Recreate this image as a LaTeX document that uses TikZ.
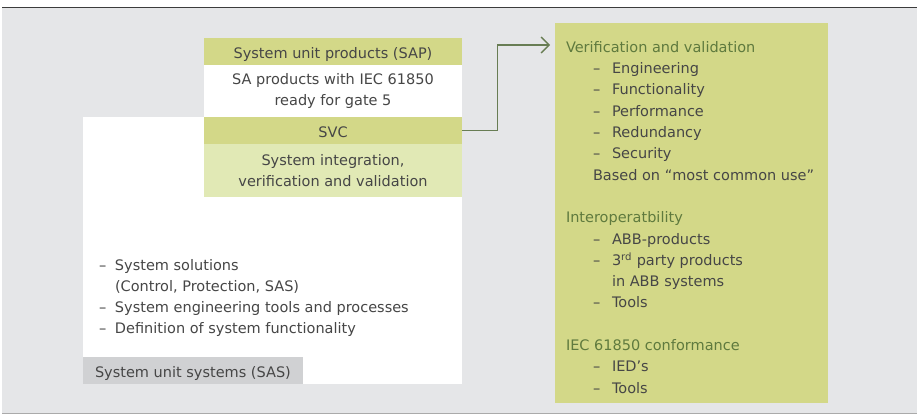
\documentclass[tikz,border=0pt]{standalone}
\usepackage{fontspec}
\setmainfont{DejaVu Sans}
\usetikzlibrary{arrows.meta}

\definecolor{bggray}{RGB}{229,230,232}
\definecolor{olive}{RGB}{211,216,136}
\definecolor{lightgreen}{RGB}{225,233,181}
\definecolor{labelgray}{RGB}{208,209,211}
\definecolor{txtgray}{RGB}{70,70,70}
\definecolor{headgreen}{RGB}{95,122,62}
\definecolor{linkgreen}{RGB}{104,125,84}
\definecolor{topline}{RGB}{60,60,60}
\definecolor{botline}{RGB}{170,170,170}

\newcommand{\sitem}[1]{\makebox[16pt][l]{–}#1}
\newcommand{\vitem}[1]{\hspace*{27pt}\makebox[19pt][l]{–}#1}
\newcommand{\grp}[1]{\textcolor{headgreen}{#1}}

\begin{document}
\begin{tikzpicture}[x=1pt,y=-1pt,font=\fontsize{14.5}{21.3}\selectfont,text=txtgray]
      \tikzstyle{unit}=[anchor=north west,inner sep=0pt,outer sep=0pt]
      \tikzstyle{head}=[unit,fill=olive,minimum width=258pt,minimum height=26.7pt,text height=13.4pt,text depth=0pt]
      \tikzstyle{body}=[unit,minimum width=258pt,minimum height=52.7pt,align=center]
      \tikzstyle{link}=[draw=linkgreen,line width=1.3pt,-{Straight Barb[length=8pt,width=16pt]}]

      \useasboundingbox (0,0) rectangle (917,415);
      \fill[bggray] (2,8) rectangle (917,413);
      \draw[line width=1.5pt,topline] (2,7.5) -- (917,7.5);
      \draw[line width=1pt,botline] (2,413) -- (917,413);

      \node[unit,fill=white,minimum width=379pt,minimum height=267pt](sasbox) at (83,117){};
      \node[head](sap) at (204,38){System unit products (SAP)};
      \node[body,fill=white](sapbody) at (204,64.7){SA products with IEC 61850\\ready for gate 5};
      \node[head](svc) at (204,117.3){SVC};
      \node[body,fill=lightgreen](svcbody) at (204,144){\raisebox{-2pt}{System integration,}\\\raisebox{-2pt}{verification and validation}};
      \node[unit,fill=labelgray,minimum width=219.7pt,minimum height=26.7pt,text height=13.4pt,text depth=0pt](sas) at (83,357.3){\makebox[195.7pt][l]{System unit systems (SAS)}};

      \node[unit,align=left](sasitems) at (99,259){\sitem{System solutions}\\\hspace*{16pt}(Control, Protection, SAS)\\\sitem{System engineering tools and processes}\\\sitem{Definition of system functionality}};

      \node[unit,fill=olive,minimum width=273pt,minimum height=379.7pt](vvbox) at (555,23){};
      \node[unit,align=left](vvlist) at (566,41.3){\grp{Verification and validation}\\
        \vitem{Engineering}\\ \vitem{Functionality}\\ \vitem{Performance}\\
        \vitem{Redundancy}\\ \vitem{Security}\\
        \hspace*{27pt}Based on “most common use”\\[21.3pt]
        \grp{Interoperatbility}\\
        \vitem{ABB-products}\\ \vitem{3\textsuperscript{rd} party products}\\
        \hspace*{46pt}in ABB systems\\ \vitem{Tools}\\[21.3pt]
        \grp{IEC 61850 conformance}\\
        \vitem{IED’s}\\ \vitem{Tools}};

      \coordinate (vvin) at (550,45);
      \draw[link] (svc.east) -- ++(35.7,0) |- (vvin);
\end{tikzpicture}
\end{document}
